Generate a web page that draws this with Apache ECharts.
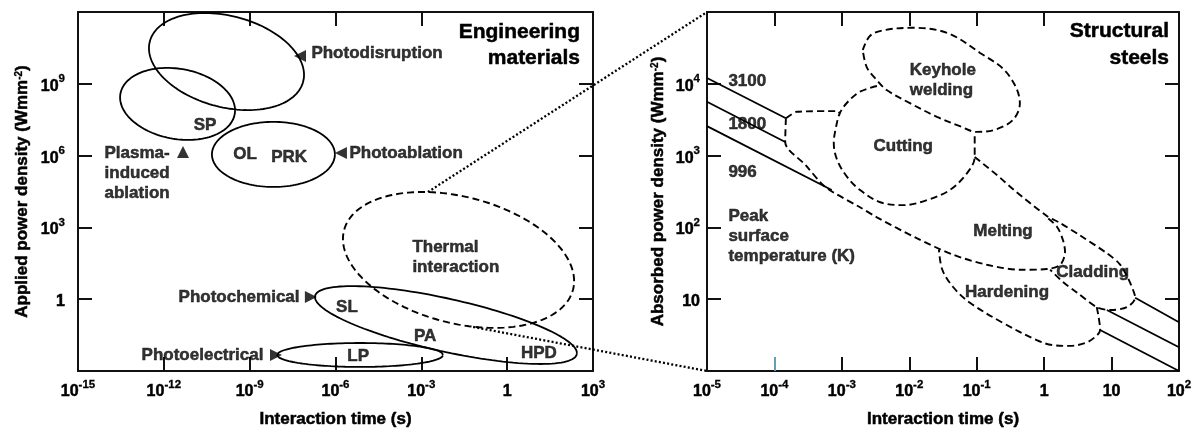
<!DOCTYPE html>
<html><head><meta charset="utf-8">
<script src="https://cdn.jsdelivr.net/npm/echarts@6/dist/echarts.min.js"></script>
<style>html,body{margin:0;padding:0;background:#fff}#c{width:1201px;height:435px}</style>
</head><body><div id="c"></div>
<script>
// ===== DATA (all values are log10 of the plotted quantity) =====
// axis tick values (exponents)
const leftXLabels = [-15, -12, -9, -6, -3, 0, 3];
const leftYLabels = [0, 3, 6, 9];
const rightXLabels = [-5, -4, -3, -2, -1, 0, 1, 2];
const rightYLabels = [1, 2, 3, 4];
const leftXBottomTicks = [-12, -9, -6, -3, 0];
const leftXTopTicks = [-12, -9, -6, -3];
const rightXBottomTicks = [-3, -2, -1, 0, 1];
const rightXTealTick = [-4];
const rightXTopTicks = [-4, -3, -2, -1, 0];

// Left panel regions, as ellipses in log space:
// [centre log t, centre log q, half-width (decades), half-height (decades), drop of the rightmost point (decades)]
const ellPhotodisruption = [-9.81, 9.93, 2.71, 1.95, -0.56];
const ellSP = [-11.52, 8.16, 2.01, 1.48, -0.27];
const ellOLPRK = [-8.17, 6.05, 2.15, 1.36, 0];
const ellThermal = [-1.70, 1.64, 4.04, 2.70, -0.88];
const ellSLPAHPD = [-2.14, -1.08, 4.58, 1.13, -1.17];
const ellLP = [-5.14, -2.33, 2.90, 0.50, 0];

// Left panel arrow markers [log t, log q]
const markPointLeft = [[-7.24, 10.16], [-5.81, 6.11]];
const markPointRight = [[-6.86, 0.09], [-8.08, -2.33]];
const markPointUp = [[-11.33, 6.15]];

// Right panel: peak surface temperature contours (solid)
const c3100a = [[-5, 4.08], [-3.83, 3.52]];
const c1800a = [[-5, 3.75], [-3.84, 3.19]];
const c996a = [[-5, 3.41], [-3.15, 2.52]];
const c3100b = [[1.35, 1.02], [2, 0.68]];
const c1800b = [[0.93, 0.85], [2, 0.33]];
const c996b = [[0.83, 0.57], [2, 0.0]];

// Right panel process boundaries (dashed)
const bKeyhole = [[-2.69, 4.47], [-2.58, 4.67], [-2.36, 4.75], [-1.96, 4.78], [-1.44, 4.71], [-0.95, 4.43],
  [-0.55, 4.15], [-0.36, 3.73], [-0.46, 3.50], [-0.73, 3.36], [-1.00, 3.33], [-1.25, 3.41], [-1.59, 3.54],
  [-1.99, 3.73], [-2.33, 3.91], [-2.48, 4.05], [-2.63, 4.23], [-2.69, 4.47]];
const bCutting = [[-2.48, 3.97], [-2.73, 3.89], [-2.91, 3.75], [-3.03, 3.59], [-3.09, 3.38], [-3.12, 3.18],
  [-3.07, 2.94], [-2.92, 2.70], [-2.73, 2.52], [-2.43, 2.35], [-2.09, 2.31], [-1.74, 2.38], [-1.40, 2.52],
  [-1.14, 2.76], [-1.03, 2.98], [-1.03, 3.31]];
const bDrill = [[-3.83, 3.52], [-3.67, 3.61], [-3.06, 3.62], [-3.03, 3.59]];
const bMeltLower = [[-3.83, 3.52], [-3.84, 3.19], [-3.53, 2.86], [-3.28, 2.59], [-3.13, 2.49], [-2.73, 2.28],
  [-2.48, 2.14], [-1.89, 1.85], [-1.35, 1.62], [-0.85, 1.48], [-0.36, 1.41], [0.04, 1.42], [0.24, 1.48],
  [0.31, 1.66], [0.28, 1.82], [0.19, 2.01], [0.04, 2.14]];
const bMeltUpperCladding = [[-1.03, 2.98], [-0.65, 2.69], [-0.46, 2.53], [0.04, 2.16], [0.24, 2.06], [0.53, 1.89],
  [0.93, 1.64], [1.12, 1.49], [1.24, 1.30], [1.33, 1.10], [1.35, 1.02], [1.23, 0.89], [0.98, 0.85], [0.78, 0.89],
  [0.49, 1.09], [0.28, 1.24], [0.09, 1.41]];
const bHardening = [[0.78, 0.89], [0.81, 0.74], [0.83, 0.57], [0.75, 0.47], [0.61, 0.39], [0.38, 0.35],
  [0.13, 0.36], [-0.11, 0.43], [-0.61, 0.67], [-1.10, 0.95], [-1.35, 1.17], [-1.51, 1.41], [-1.56, 1.69]];

// zoom connector: from left-panel points to right-panel corners
const linkFrom = [[-2.77, 4.48], [-1.19, -1.16]];
const linkTo = [[-5, 5], [-5, 0]];

// annotations [text, log t, log q]
const notesLeftL = [['Photodisruption', -6.86, 10.29], ['Photoablation', -5.53, 6.11],
  ['Plasma-\ninduced\nablation', -14.09, 5.27], ['Thermal\ninteraction', -3.33, 1.76]];
const notesLeftR = [['Photochemical', -7.24, 0.09], ['Photoelectrical', -8.50, -2.33]];
const notesLeftC = [['SP', -10.56, 7.28], ['OL', -9.16, 6.07], ['PRK', -7.62, 5.94], ['SL', -5.60, -0.33],
  ['PA', -2.87, -1.54], ['LP', -5.21, -2.37], ['HPD', 1.11, -2.25]];
const notesRightL = [['3100', -4.69, 4.04], ['1800', -4.69, 3.43], ['996', -4.69, 2.77],
  ['Peak\nsurface\ntemperature (K)', -4.69, 1.87], ['Keyhole\nwelding', -2.00, 4.05]];
const notesRightC = [['Cutting', -2.09, 3.13], ['Melting', -0.61, 1.94], ['Cladding', 0.72, 1.38], ['Hardening', -0.55, 1.10]];

// ===== RENDERING =====
const FONT = '"Liberation Sans", Arial, sans-serif';
const INK = '#000';
const HEAVY = {textBorderColor: '#000', textBorderWidth: 0.5};
const chart = echarts.init(document.getElementById('c'), null, {renderer: 'canvas'});

function ellipsePts(e) {
  const [cx, cy, a, b, c] = e, pts = [], n = 140;
  for (let i = 0; i <= n; i++) {
    const t = 2 * Math.PI * i / n;
    pts.push([cx + a * Math.cos(t), cy + b * Math.sin(t) + c * Math.cos(t)]);
  }
  return pts;
}
function line(data, xi, yi, dashed, smooth) {
  return {type: 'line', xAxisIndex: xi, yAxisIndex: yi, data: data, symbol: 'none', showSymbol: false,
    smooth: smooth || false, silent: true, z: 3, clip: false,
    lineStyle: {color: '#000', width: dashed ? 1.9 : 1.8, type: dashed ? [7, 4] : 'solid'}};
}
function notes(list, xi, yi, pos) {
  return {type: 'scatter', xAxisIndex: xi, yAxisIndex: yi, symbolSize: 1, silent: true, z: 10,
    itemStyle: {color: 'rgba(0,0,0,0)'},
    data: list.map(n => ({name: n[0], value: [n[1], n[2]]})),
    label: Object.assign({show: true, position: pos, distance: 0, formatter: '{b}', color: INK, fontSize: 17,
      fontWeight: 'bold', fontFamily: FONT, lineHeight: 20}, HEAVY)};
}
function markers(list, rot) {
  return {type: 'scatter', xAxisIndex: 0, yAxisIndex: 0, symbol: 'triangle', symbolSize: 12,
    symbolRotate: rot, silent: true, z: 8, itemStyle: {color: '#000'}, data: list};
}
function fmt(allowed) {
  return function (v) {
    v = Math.round(v);
    if (allowed.indexOf(v) < 0) return '';
    if (v === 0) return '{b|1}';
    if (v === 1) return '{b|10}';
    return '{b|10}{s|' + v + '}';
  };
}
const rich = {
  b: Object.assign({fontSize: 16, fontWeight: 'bold', fontFamily: FONT, color: INK, verticalAlign: 'bottom', lineHeight: 21}, HEAVY),
  s: Object.assign({fontSize: 11.5, fontWeight: 'bold', fontFamily: FONT, color: INK, verticalAlign: 'top', lineHeight: 21}, {textBorderColor: '#000', textBorderWidth: 0.3})
};
const frame = {show: true, onZero: false, lineStyle: {color: '#111', width: 2}};
const tick = (vals, color) => ({show: true, inside: true, length: 14, customValues: vals,
  lineStyle: {color: color || '#111', width: 2}});
const nameStyle = Object.assign({fontSize: 17, fontWeight: 'bold', fontFamily: FONT, color: INK,
  rich: {s: {fontSize: 10, fontWeight: 'bold', fontFamily: FONT, color: INK, verticalAlign: 'top', textBorderColor: '#000', textBorderWidth: 0.3}}}, HEAVY);

const option = {
  animation: false,
  backgroundColor: '#fff',
  grid: [{left: 78, top: 12, width: 515, height: 359}, {left: 707, top: 12, width: 472, height: 359}],
  xAxis: [
    {gridIndex: 0, type: 'value', position: 'bottom', min: -15, max: 3, interval: 3, axisLine: frame,
      axisTick: tick(leftXBottomTicks), splitLine: {show: false},
      axisLabel: {customValues: leftXLabels, formatter: fmt(leftXLabels), margin: 8, rich: rich, showMinLabel: true, showMaxLabel: true},
      name: 'Interaction time (s)', nameLocation: 'middle', nameGap: 40, nameTextStyle: nameStyle},
    {gridIndex: 0, type: 'value', position: 'top', min: -15, max: 3, interval: 3, axisLine: frame,
      axisTick: tick(leftXTopTicks), axisLabel: {show: false}, splitLine: {show: false}},
    {gridIndex: 1, type: 'value', position: 'bottom', min: -5, max: 2, interval: 1, axisLine: frame,
      axisTick: tick(rightXBottomTicks), splitLine: {show: false},
      axisLabel: {customValues: rightXLabels, formatter: fmt(rightXLabels), margin: 8, rich: rich, showMinLabel: true, showMaxLabel: true},
      name: 'Interaction time (s)', nameLocation: 'middle', nameGap: 40, nameTextStyle: nameStyle},
    {gridIndex: 1, type: 'value', position: 'top', min: -5, max: 2, interval: 1, axisLine: frame,
      axisTick: tick(rightXTopTicks), axisLabel: {show: false}, splitLine: {show: false}},
    {gridIndex: 1, type: 'value', position: 'bottom', min: -5, max: 2, interval: 1, axisLine: {show: false},
      axisTick: tick(rightXTealTick, '#5fa3b3'), axisLabel: {show: false}, splitLine: {show: false}}
  ],
  yAxis: [
    {gridIndex: 0, type: 'value', position: 'left', min: -3, max: 12, interval: 3, axisLine: frame,
      axisTick: tick(leftYLabels), splitLine: {show: false},
      axisLabel: {customValues: leftYLabels, formatter: fmt(leftYLabels), margin: 13, rich: rich},
      name: 'Applied power density (Wmm{s|-2})', nameLocation: 'middle', nameGap: 47, nameTextStyle: nameStyle},
    {gridIndex: 0, type: 'value', position: 'right', min: -3, max: 12, interval: 3, axisLine: frame,
      axisTick: tick(leftYLabels), axisLabel: {show: false}, splitLine: {show: false}},
    {gridIndex: 1, type: 'value', position: 'left', min: 0, max: 5, interval: 1, axisLine: frame,
      axisTick: tick(rightYLabels), splitLine: {show: false},
      axisLabel: {customValues: rightYLabels, formatter: fmt(rightYLabels), margin: 7, rich: rich},
      name: 'Absorbed power density (Wmm{s|-2})', nameLocation: 'middle', nameGap: 40, nameTextStyle: nameStyle},
    {gridIndex: 1, type: 'value', position: 'right', min: 0, max: 5, interval: 1, axisLine: frame,
      axisTick: tick(rightYLabels), axisLabel: {show: false}, splitLine: {show: false}}
  ],
  series: [
    line(ellipsePts(ellPhotodisruption), 0, 0, false),
    line(ellipsePts(ellSP), 0, 0, false),
    line(ellipsePts(ellOLPRK), 0, 0, false),
    line(ellipsePts(ellThermal), 0, 0, true),
    line(ellipsePts(ellSLPAHPD), 0, 0, false),
    line(ellipsePts(ellLP), 0, 0, false),
    markers(markPointLeft, 90),
    markers(markPointRight, -90),
    markers(markPointUp, 0),
    notes(notesLeftL, 0, 0, 'right'),
    notes(notesLeftR, 0, 0, 'left'),
    notes(notesLeftC, 0, 0, 'inside'),
    line(c3100a, 2, 2, false), line(c1800a, 2, 2, false), line(c996a, 2, 2, false),
    line(c3100b, 2, 2, false), line(c1800b, 2, 2, false), line(c996b, 2, 2, false),
    line(bKeyhole, 2, 2, true, 0.35),
    line(bCutting, 2, 2, true, 0.35),
    line(bDrill, 2, 2, true, 0.2),
    line(bMeltLower, 2, 2, true, 0.3),
    line(bMeltUpperCladding, 2, 2, true, 0.3),
    line(bHardening, 2, 2, true, 0.35),
    notes(notesRightL, 2, 2, 'right'),
    notes(notesRightC, 2, 2, 'inside')
  ]
};
chart.setOption(option);

const links = linkFrom.map((p, i) => {
  const a = chart.convertToPixel({xAxisIndex: 0, yAxisIndex: 0}, p);
  const b = chart.convertToPixel({xAxisIndex: 2, yAxisIndex: 2}, linkTo[i]);
  return {type: 'polyline', z: 50, silent: true, shape: {points: [a, b]},
    style: {stroke: '#000', lineWidth: 2.3, lineDash: [2, 2.2], fill: null}};
});
const titles = [
  {type: 'text', z: 60, x: 580, y: 19, style: {text: 'Engineering\nmaterials', align: 'right', verticalAlign: 'top',
    font: 'bold 21px ' + FONT, fill: INK, lineHeight: 26, stroke: '#000', lineWidth: 0.5}},
  {type: 'text', z: 60, x: 1169, y: 18, style: {text: 'Structural\nsteels', align: 'right', verticalAlign: 'top',
    font: 'bold 21px ' + FONT, fill: INK, lineHeight: 27, stroke: '#000', lineWidth: 0.5}}
];
chart.setOption({graphic: links.concat(titles)});
</script></body></html>
